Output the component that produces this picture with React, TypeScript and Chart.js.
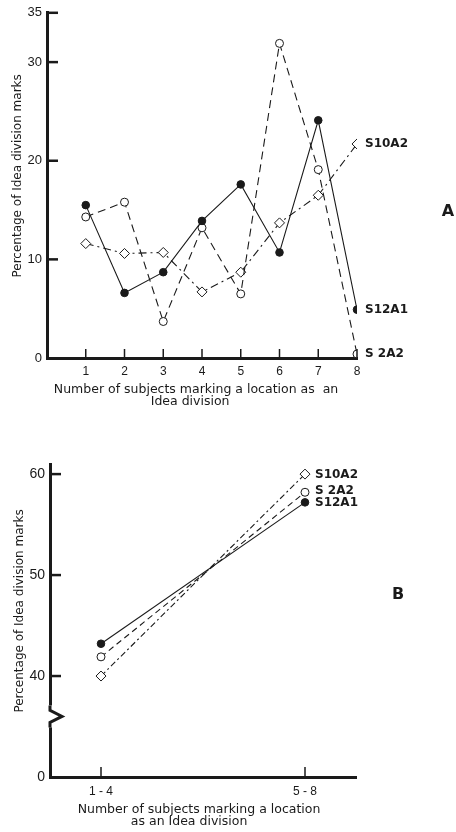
import React, { useEffect, useRef } from 'react';
import { Chart, registerables } from 'chart.js';

Chart.register(...registerables);

// ---------- Panel A data ----------
const aXValues = [1, 2, 3, 4, 5, 6, 7, 8];
const aXTickLabels = ['1', '2', '3', '4', '5', '6', '7', '8'];
const aS12A1 = [15.5, 6.6, 8.7, 13.9, 17.6, 10.7, 24.1, 4.9];
const aS2A2 = [14.3, 15.8, 3.7, 13.2, 6.5, 31.9, 19.1, 0.4];
const aS10A2 = [11.6, 10.6, 10.7, 6.7, 8.7, 13.7, 16.5, 21.7];
const aYTicks = [0, 10, 20, 30, 35];

// ---------- Panel B data ----------
const bXValues = [1, 5];
const bXTickLabels = ['1 - 4', '5 - 8'];
const bS12A1 = [43.2, 57.2];
const bS2A2 = [41.9, 58.2];
const bS10A2 = [40, 60];
const bYTicks = [30, 40, 50, 60];
const bYTickLabels = ['0', '40', '50', '60'];

const seriesNames = ['S12A1', 'S 2A2', 'S10A2'];

const INK = '#1a1a1a';

function makeDatasets(xs: number[], s12: number[], s2: number[], s10: number[], dash2: number[], dash10: number[]) {
  return [
    {
      label: seriesNames[0],
      data: xs.map((x, i) => ({ x, y: s12[i] })),
      borderColor: INK,
      borderWidth: 1.1,
      pointStyle: 'circle',
      pointRadius: 3.8,
      pointBackgroundColor: INK,
      pointBorderColor: INK,
      pointBorderWidth: 1,
      tension: 0,
    },
    {
      label: seriesNames[1],
      data: xs.map((x, i) => ({ x, y: s2[i] })),
      borderColor: INK,
      borderWidth: 1.1,
      borderDash: dash2,
      pointStyle: 'circle',
      pointRadius: 4,
      pointBackgroundColor: '#ffffff',
      pointBorderColor: INK,
      pointBorderWidth: 1,
      tension: 0,
    },
    {
      label: seriesNames[2],
      data: xs.map((x, i) => ({ x, y: s10[i] })),
      borderColor: INK,
      borderWidth: 1.1,
      borderDash: dash10,
      pointStyle: 'rectRot',
      pointRadius: 5,
      pointBackgroundColor: '#ffffff',
      pointBorderColor: INK,
      pointBorderWidth: 1,
      tension: 0,
    },
  ];
}

function decorPlugin(cfg: any) {
  return {
    id: 'decor',
    afterDraw(chart: any) {
      const { ctx, chartArea, scales } = chart;
      const y = scales.y;
      const x = scales.x;
      ctx.save();
      ctx.strokeStyle = INK;
      ctx.setLineDash([]);
      // axis break
      if (cfg.breakAt != null) {
        const yb = y.getPixelForValue(cfg.breakAt);
        const ax = chartArea.left;
        ctx.fillStyle = '#ffffff';
        ctx.fillRect(ax - 3, yb - 11, 7, 22);
        ctx.lineWidth = 3;
        ctx.beginPath();
        ctx.moveTo(ax, yb - 11);
        ctx.lineTo(ax, yb - 6);
        ctx.lineTo(ax + 12, yb);
        ctx.lineTo(ax, yb + 6);
        ctx.lineTo(ax, yb + 11);
        ctx.stroke();
      }
      // inward y ticks
      ctx.lineWidth = 2.5;
      cfg.yTicks.forEach((v: number) => {
        if (v === y.min) return;
        const py = y.getPixelForValue(v);
        ctx.beginPath();
        ctx.moveTo(chartArea.left, py);
        ctx.lineTo(chartArea.left + cfg.yTickLen, py);
        ctx.stroke();
      });
      // upward x ticks
      ctx.lineWidth = 1.5;
      cfg.xTicks.forEach((v: number) => {
        const px = x.getPixelForValue(v);
        ctx.beginPath();
        ctx.moveTo(px, chartArea.bottom);
        ctx.lineTo(px, chartArea.bottom - cfg.xTickLen);
        ctx.stroke();
      });
      // series labels
      ctx.fillStyle = INK;
      ctx.font = 'bold 12px "DejaVu Sans"';
      ctx.textAlign = 'left';
      ctx.textBaseline = 'middle';
      chart.data.datasets.forEach((ds: any, i: number) => {
        const meta = chart.getDatasetMeta(i);
        const pt = meta.data[meta.data.length - 1];
        ctx.fillText(ds.label, pt.x + cfg.labelDx, pt.y + (cfg.labelDy ? cfg.labelDy[i] : 0));
      });
      // panel letter
      ctx.font = 'bold 16px "DejaVu Sans"';
      ctx.textAlign = 'center';
      ctx.fillText(cfg.letter, cfg.letterX, cfg.letterY);
      ctx.restore();
    },
  };
}

function baseOptions(o: any) {
  return {
    responsive: false,
    animation: false,
    layout: { padding: o.padding },
    plugins: { legend: { display: false }, tooltip: { enabled: false }, title: { display: false } },
    scales: {
      x: {
        type: 'linear',
        min: o.xMin,
        max: o.xMax,
        afterFit: (s: any) => { s.height = o.xHeight; },
        afterBuildTicks: (s: any) => { s.ticks = o.xTicks.map((v: number) => ({ value: v })); },
        grid: { display: false, drawTicks: false },
        border: { display: true, color: INK, width: 3 },
        ticks: {
          color: INK,
          padding: o.xTickPad,
          maxRotation: 0,
          autoSkip: false,
          font: { family: '"Liberation Sans", Arial, sans-serif', size: 12 },
          callback: (v: number) => {
            const i = o.xTicks.indexOf(v);
            return i >= 0 ? o.xLabels[i] : '';
          },
        },
        title: {
          display: true,
          text: o.xTitle,
          color: INK,
          font: { family: '"DejaVu Sans", sans-serif', size: 12.5, lineHeight: 0.9 },
          padding: { top: 0, bottom: o.xTitlePad },
        },
      },
      y: {
        type: 'linear',
        min: o.yMin,
        max: o.yMax,
        afterFit: (s: any) => { s.width = o.yWidth; },
        afterBuildTicks: (s: any) => { s.ticks = o.yTicks.map((v: number) => ({ value: v })); },
        grid: { display: false, drawTicks: false },
        border: { display: true, color: INK, width: 3 },
        ticks: {
          color: INK,
          padding: o.yTickPad,
          autoSkip: false,
          font: { family: '"Liberation Sans", Arial, sans-serif', size: o.yTickSize },
          callback: (v: number) => {
            const i = o.yTicks.indexOf(v);
            return i >= 0 ? o.yLabels[i] : '';
          },
        },
        title: {
          display: true,
          text: '     Percentage of Idea division marks',
          color: INK,
          font: { family: '"DejaVu Sans", sans-serif', size: 12 },
          padding: { top: o.yTitlePad, bottom: 0 },
        },
      },
    },
  };
}

function PanelA() {
  const ref = useRef<HTMLCanvasElement>(null);
  useEffect(() => {
    if (!ref.current) return;
    const chart = new Chart(ref.current, {
      type: 'line',
      data: { datasets: makeDatasets(aXValues, aS12A1, aS2A2, aS10A2, [8, 5], [8, 4, 2, 4]) as any },
      options: baseOptions({
        padding: { left: 0, right: 99, top: 9, bottom: 0 },
        xMin: 0, xMax: 8, xHeight: 62, xTicks: aXValues, xLabels: aXTickLabels, xTickPad: 6,
        xTitle: ['Number of subjects marking a location as  an   ', 'Idea division      '], xTitlePad: 13,
        yMin: 0, yMax: 35, yWidth: 47, yTicks: aYTicks, yLabels: aYTicks.map(String), yTickPad: 5, yTickSize: 13,
        yTitlePad: 11,
      }) as any,
      plugins: [decorPlugin({ yTicks: aYTicks, yTickLen: 11, xTicks: aXValues, xTickLen: 9, labelDx: 8, letter: 'A', letterX: 448, letterY: 212 })],
    });
    return () => chart.destroy();
  }, []);
  return <canvas ref={ref} width={456} height={420} style={{ position: 'absolute', left: 0, top: 0, display: 'block' }} />;
}

function PanelB() {
  const ref = useRef<HTMLCanvasElement>(null);
  useEffect(() => {
    if (!ref.current) return;
    const chart = new Chart(ref.current, {
      type: 'line',
      data: { datasets: makeDatasets(bXValues, bS12A1, bS2A2, bS10A2, [6, 4], [6, 3, 2, 3]) as any },
      options: baseOptions({
        padding: { left: 0, right: 100, top: 44, bottom: 0 },
        xMin: 0, xMax: 6, xHeight: 55, xTicks: bXValues, xLabels: bXTickLabels, xTickPad: 7,
        xTitle: ['Number of subjects marking a location  ', 'as an Idea division       '], xTitlePad: 5,
        yMin: 30, yMax: 61, yWidth: 50, yTicks: bYTicks, yLabels: bYTickLabels, yTickPad: 5, yTickSize: 14,
        yTitlePad: 13,
      }) as any,
      plugins: [decorPlugin({ yTicks: bYTicks, yTickLen: 11, xTicks: bXValues, xTickLen: 10, labelDx: 10, labelDy: [1, -1, 1], breakAt: 36, letter: 'B', letterX: 398, letterY: 175 })],
    });
    return () => chart.destroy();
  }, []);
  return <canvas ref={ref} width={456} height={412} style={{ position: 'absolute', left: 0, top: 420, display: 'block' }} />;
}

export default function App() {
  return (
    <div style={{ position: 'absolute', left: 0, top: 0, width: 456, height: 832, background: '#ffffff', overflow: 'hidden' }}>
      <PanelA />
      <PanelB />
    </div>
  );
}
